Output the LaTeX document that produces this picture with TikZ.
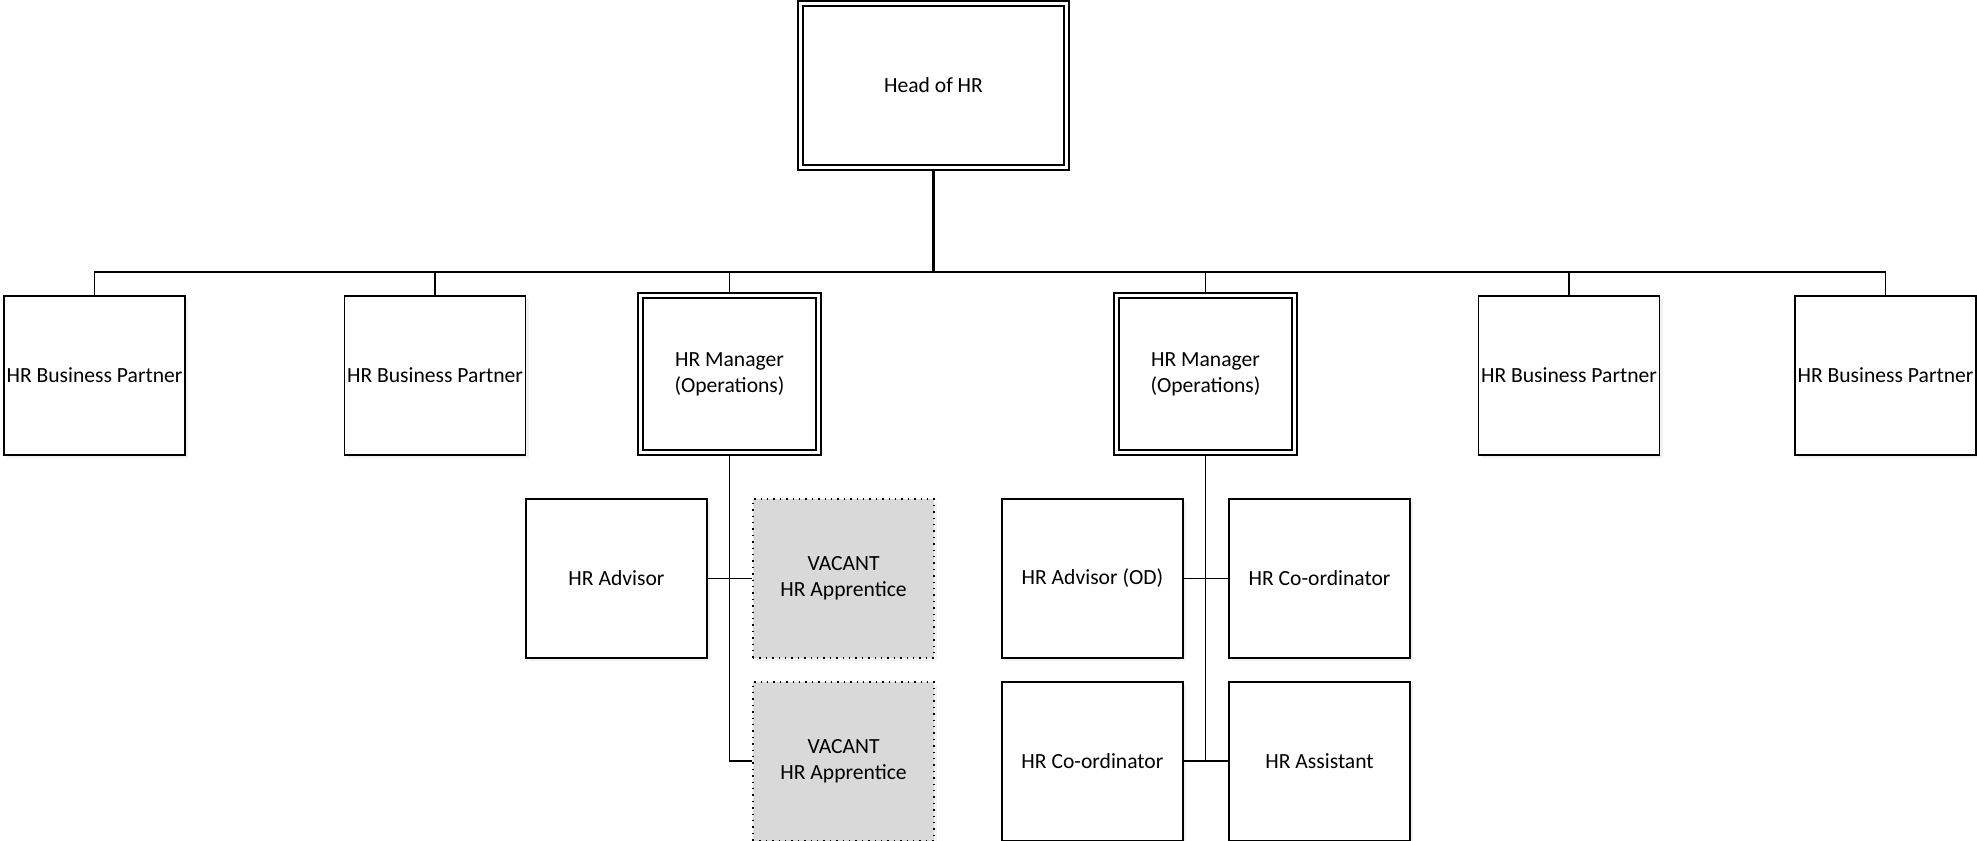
\documentclass[tikz,border=0pt]{standalone}
\usepackage{fontspec}
\setmainfont{Carlito}
\usetikzlibrary{positioning,shadows}
\definecolor{vacgray}{HTML}{D9D9D9}

\begin{document}
\begin{tikzpicture}[x=0.5pt,y=-0.5pt]
\tikzstyle{role}=[draw, rectangle, line width=0.85pt, fill=white, inner sep=1pt, align=center, minimum width=90.5pt, minimum height=79.5pt, font=\fontsize{10.8pt}{13pt}\selectfont, drop shadow={shadow xshift=1.5pt, shadow yshift=-1.5pt, opacity=0.1}]
\tikzstyle{headrole}=[role, double, double distance=1.65pt, outer sep=1.6pt, minimum width=89pt, minimum height=78.5pt]
\tikzstyle{vacrole}=[role, fill=vacgray, dash pattern=on 0.7pt off 2.5pt]
\tikzstyle{conn}=[line width=0.9pt]
\tikzstyle{trunk}=[line width=1.3pt]
\pgfmathsetmacro{\gx}{22.2}
\pgfmathsetmacro{\gy}{11}

\useasboundingbox (0,0) rectangle (1977,841);

\node[headrole, minimum width=133pt, minimum height=82pt] (head) at (933.5,85.5) {Head of HR};
\node[role] (bp1) at (94.5,375.5) {HR Business Partner};
\node[role] (bp2) at (435,375.5) {HR Business Partner};
\node[headrole] (mgrA) at (729.5,374) {HR Manager\\(Operations)};
\node[headrole] (mgrB) at (1205.5,374) {HR Manager\\(Operations)};
\node[role] (bp3) at (1569,375.5) {HR Business Partner};
\node[role] (bp4) at (1885.5,375.5) {HR Business Partner};

% operations team A
\node[role, below left = 21.25pt and 10.85pt of mgrA.south] (advA) {HR Advisor};
\node[vacrole, right = \gx pt of advA] (vacA) {VACANT\\HR Apprentice};
\node[vacrole, below = \gy pt of vacA] (vacB) {VACANT\\HR Apprentice};

% operations team B
\node[role, below left = 21.25pt and 10.85pt of mgrB.south] (advB) {HR Advisor (OD)};
\node[role, right = \gx pt of advB] (coordA) {HR Co-ordinator};
\node[role, below = \gy pt of advB] (coordB) {HR Co-ordinator};
\node[role, right = \gx pt of coordB] (asst) {HR Assistant};

\coordinate (bus) at (933.5,272);
\draw[trunk] (head.south) -- (bus);
\foreach \n in {bp1,bp2,mgrA,mgrB,bp3,bp4}{\draw[conn] (\n.north) |- (bus);}
\draw[conn] (mgrA.south) |- (vacB.west);
\draw[conn] (advA.east) -- (vacA.west);
\draw[conn] (mgrB.south) -- (mgrB.south |- asst.west);
\draw[conn] (advB.east) -- (coordA.west);
\draw[conn] (coordB.east) -- (asst.west);
\end{tikzpicture}
\end{document}
